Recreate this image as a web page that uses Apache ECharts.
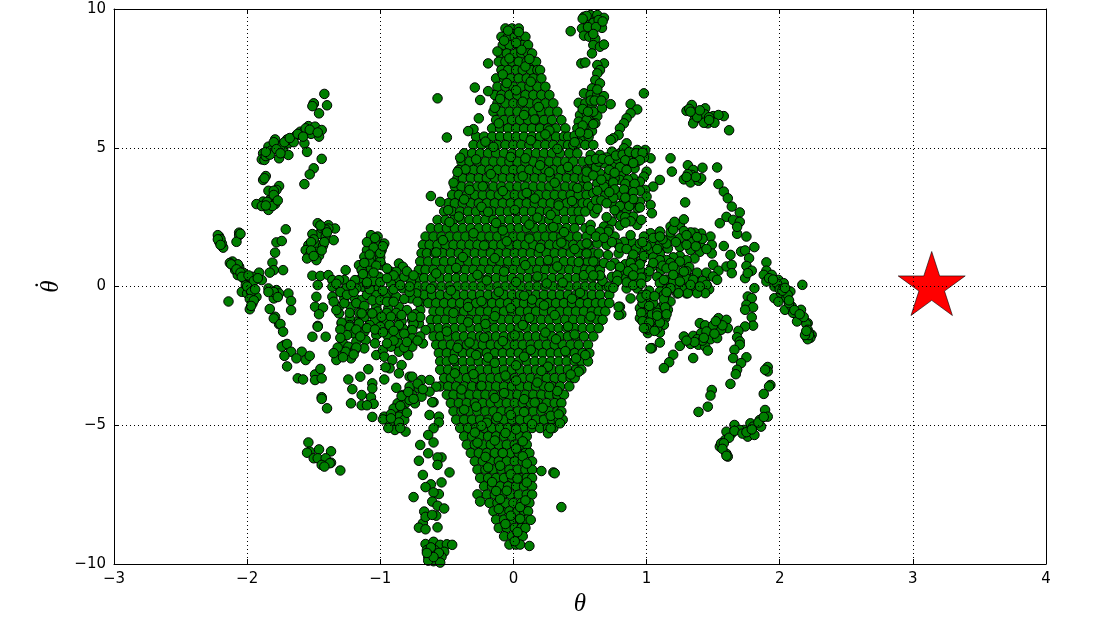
<!DOCTYPE html>
<html><head><meta charset="utf-8">
<style>html,body{margin:0;padding:0;background:#fff}#c{width:1100px;height:633px}</style>
<script src="https://cdn.jsdelivr.net/npm/echarts@6/dist/echarts.min.js"></script>
</head><body><div id="c"></div>
<script>
const xTicks = [-3,-2,-1,0,1,2,3,4];
const yTicks = [-10,-5,0,5,10];
const target = [3.14159, 0];

// Core of the cloud: one list of theta values per theta-dot level
const coreOmega = [9.3,9,8.7,8.4,8.1,7.8,7.5,7.2,6.9,6.6,6.3,6,5.7,5.4,5.1,4.8,4.5,4.2,3.9,3.6,3.3,3,2.7,2.4,2.1,1.8,1.5,1.2,.9,.6,.3,0,-.3,-.6,-.9,-1.2,-1.5,-1.8,-2.1,-2.4,-2.7,-3,-3.3,-3.6,-3.9,-4.2,-4.5,-4.8,-5.1,-5.4,-5.7,-6,-6.3,-6.6,-6.9,-7.2,-7.5,-7.8,-8.1,-8.4,-8.7,-9,-9.3];
const coreTheta = [
[-.06,-.01,.04],
[-.09,-.04,.01,.06,.09],
[-.08,-.03,.03,.07,.11],
[-.1,-.05,.01,.06,.11,.14],
[-.11,-.06,-.01,.04,.1,.15,.17],
[-.09,-.04,.02,.07,.13,.18,.2],
[-.13,-.07,-.02,.04,.1,.15,.21],
[-.12,-.06,0,.06,.12,.18,.24],
[-.14,-.09,-.03,.03,.09,.15,.21,.27],
[-.12,-.06,0,.06,.12,.18,.24,.3],
[-.15,-.09,-.03,.03,.09,.15,.21,.27,.33],
[-.13,-.07,-.01,.05,.11,.17,.23,.29,.36],
[-.16,-.1,-.04,.02,.08,.14,.2,.26,.32,.39],
[-.28,-.22,-.16,-.1,-.04,.02,.08,.14,.2,.26,.32,.38,.41],
[-.3,-.24,-.18,-.12,-.06,0,.06,.12,.18,.24,.3,.36,.41,.45],
[-.37,-.31,-.25,-.19,-.13,-.07,-.01,.05,.11,.17,.23,.29,.35,.42,.48],
[-.39,-.33,-.27,-.21,-.15,-.09,-.03,.03,.09,.15,.21,.27,.33,.39,.45,.52],
[-.41,-.36,-.3,-.24,-.18,-.12,-.06,0,.06,.12,.18,.24,.3,.36,.42,.48,.55],
[-.42,-.38,-.32,-.26,-.2,-.14,-.08,-.02,.04,.1,.16,.22,.28,.34,.4,.46,.52,.55],
[-.44,-.39,-.33,-.27,-.21,-.15,-.09,-.03,.03,.09,.15,.21,.27,.33,.39,.45,.51,.56],
[-.46,-.41,-.35,-.29,-.23,-.17,-.11,-.05,.01,.07,.13,.19,.25,.31,.37,.43,.49,.55],
[-.49,-.44,-.38,-.32,-.26,-.2,-.14,-.08,-.02,.04,.1,.16,.22,.28,.34,.4,.46,.52,.56],
[-.52,-.46,-.4,-.34,-.28,-.22,-.16,-.1,-.04,.02,.08,.14,.2,.26,.32,.38,.44,.49,.54],
[-.57,-.51,-.45,-.39,-.33,-.27,-.21,-.15,-.09,-.03,.03,.09,.15,.21,.27,.33,.39,.45,.5],
[-.62,-.56,-.5,-.44,-.38,-.32,-.26,-.2,-.14,-.08,-.02,.04,.1,.16,.22,.28,.34,.4,.46,.54],
[-.66,-.6,-.54,-.48,-.42,-.36,-.3,-.24,-.18,-.12,-.06,0,.06,.12,.18,.24,.3,.36,.42,.48,.55],
[-.68,-.63,-.57,-.51,-.45,-.39,-.33,-.27,-.21,-.15,-.09,-.03,.03,.09,.15,.21,.27,.33,.39,.45,.51,.57],
[-.69,-.65,-.59,-.53,-.47,-.41,-.35,-.29,-.23,-.17,-.11,-.05,.01,.07,.13,.19,.25,.31,.37,.43,.49,.55,.6],
[-.7,-.64,-.58,-.52,-.46,-.4,-.34,-.28,-.22,-.16,-.1,-.04,.02,.08,.14,.2,.26,.32,.38,.44,.5,.56,.62],
[-.71,-.66,-.6,-.54,-.48,-.42,-.36,-.3,-.24,-.18,-.12,-.06,0,.06,.12,.18,.24,.3,.36,.42,.48,.54,.6,.64],
[-.72,-.67,-.61,-.55,-.49,-.43,-.37,-.31,-.25,-.19,-.13,-.07,-.01,.05,.11,.17,.23,.29,.35,.41,.47,.53,.59,.66],
[-.72,-.66,-.6,-.54,-.48,-.42,-.36,-.3,-.24,-.18,-.12,-.06,0,.06,.12,.18,.24,.3,.36,.42,.48,.54,.6,.65,.7],
[-.71,-.67,-.61,-.55,-.49,-.43,-.37,-.31,-.25,-.19,-.13,-.07,-.01,.05,.11,.17,.23,.29,.35,.41,.47,.53,.59,.65,.72],
[-.7,-.64,-.58,-.52,-.46,-.4,-.34,-.28,-.22,-.16,-.1,-.04,.02,.08,.14,.2,.26,.32,.38,.44,.5,.56,.62,.67,.72],
[-.6,-.55,-.49,-.43,-.37,-.31,-.25,-.19,-.13,-.07,-.01,.05,.11,.17,.23,.29,.35,.41,.47,.53,.59,.64,.69],
[-.62,-.57,-.51,-.45,-.39,-.33,-.27,-.21,-.15,-.09,-.03,.03,.09,.15,.21,.27,.33,.39,.45,.51,.57,.63,.67],
[-.62,-.56,-.5,-.44,-.38,-.32,-.26,-.2,-.14,-.08,-.02,.04,.1,.16,.22,.28,.34,.4,.46,.52,.58,.64],
[-.6,-.55,-.49,-.43,-.37,-.31,-.25,-.19,-.13,-.07,-.01,.05,.11,.17,.23,.29,.35,.41,.47,.53,.6],
[-.58,-.53,-.47,-.41,-.35,-.29,-.23,-.17,-.11,-.05,.01,.07,.13,.19,.25,.31,.37,.43,.49,.56],
[-.56,-.5,-.44,-.38,-.32,-.26,-.2,-.14,-.08,-.02,.04,.1,.16,.22,.28,.34,.4,.46,.52,.57],
[-.55,-.5,-.44,-.38,-.32,-.26,-.2,-.14,-.08,-.02,.04,.1,.16,.22,.28,.34,.4,.46,.51,.56],
[-.55,-.49,-.43,-.37,-.31,-.25,-.19,-.13,-.07,-.01,.05,.11,.17,.23,.29,.35,.41,.47,.51],
[-.52,-.47,-.41,-.35,-.29,-.23,-.17,-.11,-.05,.01,.07,.13,.19,.25,.31,.37,.43,.46],
[-.55,-.49,-.43,-.37,-.31,-.25,-.19,-.13,-.07,-.01,.05,.11,.17,.23,.29,.35,.42],
[-.5,-.45,-.39,-.33,-.27,-.21,-.15,-.09,-.03,.03,.09,.15,.21,.27,.33,.38],
[-.47,-.41,-.35,-.29,-.23,-.17,-.11,-.05,.01,.07,.13,.19,.25,.31,.36],
[-.45,-.39,-.33,-.27,-.21,-.15,-.09,-.03,.03,.09,.15,.21,.27,.33,.36],
[-.43,-.37,-.31,-.25,-.19,-.13,-.07,-.01,.05,.11,.17,.23,.29,.34,.37],
[-.4,-.34,-.28,-.22,-.16,-.1,-.04,.02,.08,.14,.2,.26,.3],
[-.37,-.31,-.25,-.19,-.13,-.07,-.01,.05,.1],
[-.35,-.29,-.23,-.17,-.11,-.05,.01,.06,.1],
[-.32,-.26,-.2,-.14,-.08,-.02,.04,.09,.12],
[-.29,-.23,-.17,-.11,-.05,.01,.07,.14],
[-.27,-.21,-.15,-.09,-.03,.03,.09,.14],
[-.25,-.19,-.13,-.07,-.01,.05,.1,.14],
[-.22,-.16,-.1,-.04,.02,.08,.14],
[-.2,-.14,-.08,-.02,.04,.1,.14],
[-.18,-.12,-.06,0,.06,.12],
[-.15,-.09,-.03,.03,.08,.11],
[-.13,-.07,-.01,.05,.1],
[-.11,-.05,.01,.06,.09],
[-.07,-.01,.04,.07],
[-.03,.02,.05]
];
// Points lying over the core, as theta, theta-dot pairs
const coreOverlay = [-.04,9.22,.04,9.17,-.07,8.86,.06,8.53,-.03,8.22,.09,7.93,-.08,7.64,.13,7.38,.02,7.07,-.1,6.76,.19,6.47,.08,6.18,-.11,5.88,.27,5.62,.13,5.27,-.21,5.22,.33,4.96,-.02,4.67,-.28,4.58,.2,4.37,.41,4.31,-.17,4.05,.07,3.97,.31,3.74,-.33,3.48,-.08,3.44,.16,3.17,.44,3.08,-.24,2.87,.01,2.76,.28,2.58,-.41,2.52,-.13,2.29,.12,2.23,.38,1.96,-.3,1.92,-.53,1.67,-.05,1.63,.2,1.39,.46,1.35,-.38,1.06,-.14,1.02,.09,.77,.33,.72,-.58,.47,-.27,.42,.53,.41,.02,.16,.25,.11,-.47,-.14,-.11,-.19,.44,-.44,.14,-.47,-.34,-.74,-.02,-.78,.31,-1.03,.58,-1.08,-.21,-1.35,.07,-1.39,-.5,-1.62,.24,-1.66,.46,-1.73,-.08,-1.97,-.33,-2.02,.13,-2.28,.39,-2.33,-.19,-2.56,-.45,-2.62,.02,-2.84,.26,-2.89,-.3,-3.16,-.06,-3.21,.18,-3.46,-.39,-3.71,.33,-3.77,-.14,-4.02,.08,-4.06,-.28,-4.33,.22,-4.37,-.02,-4.63,-.2,-4.91,.14,-4.96,-.29,-5.26,-.06,-5.28,-.14,-5.55,.02,-5.84,-.21,-6.14,.07,-6.12,-.1,-6.46,-.02,-6.77,-.16,-7.05,.1,-7.06,-.05,-7.36,-.1,-7.66,.05,-7.95,-.02,-8.26,-.06,-8.56,.03,-8.85,.01,-9.18,-.12,8.47,.02,8.78,.12,8.2,-.05,7.33,.07,6.66,-.14,6.44,.16,6.02,.24,5.48,-.15,5.03,.09,4.62,-.36,4.22,.27,4.12,-.23,3.61,.48,3.55,.1,3.37,-.37,3.14,.34,2.92,-.19,2.69,.18,2.48,-.48,2.32,-.08,2.02,.3,2.14,-.22,1.48,.12,1.73,.36,1.58,-.58,1.23,.26,.95,-.07,.54,.49,.88,-.43,.67,.18,.36,-.2,.22,-.62,-.08,.37,.14,.08,-.33,-.24,-.53,.5,-.23,.23,-.68,-.45,-.95,.12,-1.13,-.14,-1.07,.41,-1.44,-.34,-1.29,.01,-1.76,-.22,-1.84,.32,-1.9,-.42,-2.21,.08,-2.53,.47,-2.59,-.28,-2.47,-.14,-2.75,.21,-3.04,-.44,-3.13,.02,-3.39,-.24,-3.58,.27,-3.62,-.07,-3.84,.16,-4.18,-.37,-4.44,.08,-4.52,-.12,-4.71,.28,-4.66,-.24,-5.02,.02,-5.15,-.27,-5.63,.07,-5.58,-.08,-6,-.19,-6.52,.1,-6.38,.03,-6.92,-.13,-7.37,.09,-7.71,-.11,-8.02,.05,-8.37];

// Outlying groups, as theta, theta-dot pairs
const topFinger = [.53,9.72,.58,9.78,.63,9.78,.68,9.68,.55,9.6,.615,9.54,.515,9.3,.58,9.36,.665,9.32,.43,9.2,.53,9.04,.57,9,.615,8.92,.6,8.7,.65,8.64,.68,8.72,.59,8.4,.51,8.04,.54,8.07,.68,8.04,.63,7.98,.65,7.8,.63,7.68,.615,7.44,.65,7.32,.59,7.14,.53,6.96,.58,6.9,.63,6.92,.68,6.86,.73,6.57,.49,6.62,.54,6.6,.59,6.54,.665,6.42,.5,6.18,.55,6.24,.63,6.14,.49,5.94,.565,6,.615,5.88,.48,5.7,.54,5.67,.59,5.6,.46,5.43,.515,5.4,.565,5.4,.49,5.16,.54,5.1,.55,9.75,.6,9.5,.64,9.6,.56,9.35,.62,9.35,.6,9.1,.52,9.65,.67,9.55,.63,7.1,.58,6.7,.52,6.4,.6,6.3,.55,6,.52,5.8,.6,5.85,.56,5.5,.5,5.55,.61,6.7,.66,6.7,.56,6.3,.46,5.2,.6,5.1];
const rightUpper = [.98,6.96,.88,6.58,.93,6.38,.88,6.24,.85,6.06,.83,5.88,.8,5.7,.79,5.46,.75,5.34,.73,5.28,.85,5.16,.99,4.92,1.03,4.62,.93,4.92,.89,4.68,.98,4.65,.8,4.8,.58,4.74,.65,4.74,.74,4.86,.83,4.98,.9,4.74,.59,4.44,.68,4.44,.76,4.44,.88,4.32,.55,4.14,.65,4.08,.71,3.96,.81,4.02,.91,4.26,1,4.14,.98,3.96,.95,3.78,1.1,3.84,1.05,3.6,.99,3.48,1,3.24,1.03,2.94,1.04,2.64,.63,3.72,.71,3.66,.8,3.84,.87,3.57,.6,3.36,.69,3.3,.8,3.3,.88,3.24,.59,2.9,.75,2.94,.83,3.06,.91,3.06,.95,3.06,.61,2.64,.78,2.64,.85,2.76,.93,2.82,.81,2.52,.9,2.52,.93,2.22,.74,2.34,.58,2.22,.68,2.16,.62,4.3,.72,4.2,.83,4.4,.93,4.5,.76,3.9,.68,3.6,.9,3.9,.86,3.85,.75,3.2,.64,4.5,.7,4.65,.78,4.6,.86,4.6,.62,3.1,.88,2.95,.57,4.55,.62,4.6,.67,4.6,.72,4.55,.77,4.72,.82,4.75,.87,4.85,.92,4.8,.97,4.82,.95,4.55,.84,4.55,.9,4.45,.8,4.3,.85,4.2,.76,4.1,.6,4,.66,3.85,.75,3.75,.84,3.7,.91,3.7,.95,3.45,.9,3.4,.83,3.5,.76,3.5,.72,3.4,.63,3.45,.66,3.1,.7,3,.8,2.9,.87,2.9,.9,3.15,.84,3.2,.95,2.85,.63,2.8,.7,2.5,.76,2.75,.84,2.5,.88,2.35,.8,2.2,.72,2.05,.84,2.3,.96,2.4];
const rightMid = [1.25,2.21,1.18,2.16,1.1,1.98,1.03,1.92,.98,1.8,1.04,1.55,1.1,1.5,1.18,1.8,1.25,1.74,1.33,1.61,1.4,1.55,1.48,1.8,1.49,1.5,1.41,1.91,1.36,1.94,1.49,1.19,1.4,1.25,1.33,1.31,1.25,1.43,1.16,1.37,1.03,1.25,1.1,1.19,.95,1.31,.89,1.61,.83,1.61,.76,1.8,.71,1.97,.65,1.97,.58,2.03,.78,1.55,.7,1.49,.63,1.55,.55,1.55,.55,1.19,.64,1.19,.71,1.13,.79,1.19,.89,1.01,.96,.95,1.04,.71,1.11,.59,1.2,.77,1.28,.83,1.36,1.01,1.29,.47,1.36,.35,1.45,.35,1.45,.05,1.38,-.07,1.3,-.25,1.23,-.25,1.15,-.25,1.08,.35,.58,.59,.65,.59,.74,.35,.84,.35,.91,.23,1,.35,.85,-.07,.8,-.73,.81,-1,.88,-.43,.93,-.07,.6,.9,.68,.85,.76,.85,.84,.8,.8,.55,.95,.6,.67,.2,.72,0,1.15,1.55,1.25,1.1,1.3,.95,1.2,1.05,1.15,.95,1.32,.7,1.22,.5,1.15,.25,1.2,.05,1.3,.1,1.38,.15,1.25,.25,.96,.32,.88,.5,1.05,1.05,1.33,1.95,.92,1.35,1.28,2,.62,1.8,.68,1.75,.74,1.6,.8,1.4,.85,1.35,.88,1.85,.95,1.55,.9,1.15,1,1.45,1.08,1.35,.98,1.1,1.1,.95,1.05,.85,.88,.85,.95,.8,1.12,.75,1.18,.85,1.25,.9,1.02,.55,.9,.65,.86,.55,.8,.7,.73,.75,.65,.4,.6,.4,.78,.4,.9,.4,1.15,.65,1.22,.6,1.3,.55,1.38,.5,1.45,.5,1.42,.2,1.3,.28,1.36,0,1.28,-.1,1.22,-.1,1.15,-.1,1.4,-.15,1.47,-.1,1.2,.2,1.1,.12,1.3,1.5,1.37,1.45,1.45,1.35,1.22,1.6,1.3,1.85,1.18,1.95,1.42,1.72,1.38,1.78,1.12,1.7,1.05,1.75,1.2,2.05,1.1,1.8,.97,1.6,.85,.15,.78,.2,.9,.05,.96,.1,.75,-.05];
const lowerLobe = [.98,-.48,1.03,-.48,1.1,-.18,1.18,-.54,.95,-.78,1.01,-.84,1.08,-.78,1.16,-.84,.95,-1.14,1,-1.14,1.05,-1.2,1.14,-1.14,1.13,-1.38,.99,-1.38,1.04,-1.44,1.01,-1.68,1.1,-1.66,1.1,-2.02,1.04,-2.22,.97,-.3,1.02,-.15,1.13,-.3,.97,-.6,1.05,-.6,1.13,-.65,1.12,-.95,.98,-.95,1.04,-1,1.01,-1.55,1.08,-1.5,1.03,-2.23,1.13,.24,1.2,.72,1.28,.54,1.35,.24,1.45,.06,1.44,-.24,1.38,-.24,1.31,-.24,1.24,-.24,1.18,-.06,1.4,0,1.33,.06,1.25,.18,1.2,.42,.96,-.4,1,-.3,1.06,-.35,1.13,-.45,.96,-.95,1.02,-.7,1.08,-.95,1.14,-.75,.97,-1.25,1.02,-1.3,1.1,-1.3,1.08,-1.05,1.15,-1,1,-1.5,1.06,-1.6,.98,-1.5,1.15,-.2];
const rightScatter = [1.58,1.46,1.68,1.9,1.75,1.8,1.81,1.42,1.63,1.14,1.71,1.26,1.74,1.3,1.77,1.02,1.5,.78,1.54,.57,1.6,.72,1.64,.78,1.64,.48,1.5,.36,1.53,.24,1.75,.74,1.79,.57,1.74,.3,1.76,.48,1.9,.87,1.81,-.06,1.34,6.54,1.3,6.33,1.35,6.27,1.44,6.42,1.44,6.2,1.5,6.14,1.58,6.14,1.54,6.18,1.36,6,1.35,5.88,1.46,5.88,1.51,5.9,1.43,5.9,1.62,5.63,1.18,4.62,1.19,4.14,1.31,4.37,1.42,4.28,1.53,4.29,1.35,4.2,1.34,4.02,1.28,3.86,1.33,3.75,1.39,3.81,1.41,3.9,1.29,3.03,1.54,3.69,1.58,3.42,1.61,3.18,1.64,2.88,1.7,2.67,1.6,2.51,1.55,2.28,1.65,2.4,1.7,2.33,1.68,2.15,1.28,2.42,1.21,2.33,1.38,6.1,1.32,6.4,1.4,6.35,1.47,6.1,1.33,6.3,1.47,6,1.31,4.05,1.37,3.95,1.3,3.95];
const rightTail = [1.9,.57,1.94,.42,1.88,.42,1.9,.18,1.99,.24,1.96,0,2.03,.12,2.08,-.18,1.96,-.42,2.01,-.24,2.05,-.42,2.04,-.84,2.09,-.72,2.13,-.9,2.16,-.84,2.14,-1.14,2.21,-1.32,2.13,-1.26,2.2,-1.35,2.21,-1.56,2.22,-1.8,2.2,-1.8,2.24,-1.74,2.17,.06,1.92,.3,1.98,.1,2,-.1,2.06,-.3,1.99,-.55,2.07,-.6,2.1,-.95,2.18,-1.1,2.2,-1.65,2.22,-1.68,2.23,-1.85,2.21,-1.9,2.02,-.15,2.04,-.05,1.95,.25,2.07,-.5,2.11,-.85,2.15,-1,2.22,-1.75,2.19,-1.75,2.2,-1.6];
const rightColumn = [1.76,-.36,1.79,-.42,1.75,-.66,1.8,-.75,1.74,-.84,1.79,-1.11,1.8,-1.41,1.74,-1.44,1.69,-1.6,1.68,-1.83,1.7,-1.98,1.7,-2.1,1.66,-2.28,1.65,-2.58,1.75,-2.55,1.71,-2.76,1.68,-3,1.67,-3.16,1.63,-3.51];
const rightCluster = [1.54,-1.14,1.6,-1.2,1.4,-1.32,1.48,-1.5,1.54,-1.5,1.61,-1.5,1.56,-1.56,1.35,-1.78,1.41,-1.68,1.48,-1.9,1.53,-1.86,1.28,-1.8,1.39,-2.1,1.44,-2.16,1.33,-2.07,1.46,-2.31,1.25,-2.14,1.2,-2.46,1.17,-2.73,1.13,-2.94,1.35,-2.58,1.49,-3.73,1.48,-3.93,1.46,-4.33,1.39,-4.52,1.91,-2.9,1.91,-3.06,1.89,-3,1.93,-3.55,1.92,-3.6,1.88,-3.87,1.44,-1.4,1.5,-1.4,1.45,-1.62,1.51,-1.7,1.57,-1.4,1.38,-1.9,1.42,-1.95,1.36,-2,1.3,-1.95,1.43,-1.85,1.52,-1.25];
const bottomArc = [1.89,-4.45,1.91,-4.69,1.85,-4.81,1.78,-4.93,1.8,-5.05,1.86,-5.05,1.73,-5.17,1.76,-5.41,1.81,-5.35,1.66,-4.99,1.7,-5.17,1.64,-5.29,1.6,-5.23,1.59,-5.53,1.55,-5.77,1.56,-5.65,1.6,-6.03,1.61,-6.13,1.62,-5.45,1.66,-5.2,1.72,-5.3,1.75,-5.25,1.79,-5.15,1.84,-4.9,1.88,-4.7,1.58,-5.65,1.57,-5.85,1.6,-6.1];
const leftArc = [-1.42,6.94,-1.5,6.58,-1.5,6.6,-1.51,6.5,-1.4,6.53,-1.46,6.24,-1.54,5.78,-1.49,5.76,-1.44,5.64,-1.46,5.4,-1.6,5.58,-1.66,5.34,-1.57,5.16,-1.69,5.16,-1.55,4.85,-1.73,4.92,-1.69,4.74,-1.76,4.62,-1.78,5.1,-1.84,5.04,-1.79,5.3,-1.88,4.8,-1.89,4.58,-1.87,4.56,-1.44,4.6,-1.5,4.26,-1.53,4.04,-1.57,3.69,-1.86,3.98,-1.88,3.84,-1.76,3.62,-1.78,3.48,-1.84,3.45,-1.83,3.12,-1.79,2.97,-1.88,3.06,-1.93,2.97,-1.84,2.76,-1.89,2.9,-1.63,5.45,-1.58,5.55,-1.7,5.3,-1.75,5.05,-1.82,4.9,-1.86,4.7,-1.52,5.5,-1.56,5.7,-1.65,5.2,-1.83,4.75,-1.8,5.2,-1.72,5.2,-1.68,5.35,-1.62,5.5,-1.58,5.4,-1.53,5.65,-1.47,5.55,-1.78,4.95,-1.86,4.85,-1.75,4.8,-1.87,3.9,-1.85,3.05,-1.81,2.9,-1.86,2.92,-1.8,3.45,-1.8,3.3,-1.77,3.1];
const leftLobes = [-1.71,2.06,-1.78,1.59,-1.74,1.64,-1.79,1.22,-1.81,.86,-1.73,.59,-1.8,.59,-1.83,.5,-2.06,1.94,-2.06,1.85,-2.08,1.61,-2.21,1.8,-2.21,1.61,-2.18,1.4,-2.22,1.85,-2.19,1.55,-2.11,.9,-2.06,.71,-2.09,.59,-2.07,.41,-2.02,.26,-1.91,.5,-1.96,.35,-1.89,.23,-1.96,-.01,-2.04,-.19,-2,-.25,-2.14,-.54,-1.84,-.07,-1.78,-.13,-1.76,-.25,-1.8,-.43,-1.93,-.37,-1.96,-.61,-1.98,-.82,-1.69,-.25,-1.67,-.52,-1.67,-.85,-1.83,-.81,-1.79,-1.09,-1.76,-1.36,-1.8,-1.15,-2.1,.75,-2.03,.5,-1.98,.15,-2.07,.8,-2.13,.85,-2.01,.05,-2.12,.8,-2.08,.62,-2.05,.5,-2.04,.35,-1.99,.4,-1.95,.2,-1.92,.3,-2,0,-1.97,-.2,-1.94,-.1,-1.98,-.45,-1.95,-.5,-1.97,-.7,-1.8,-.2,-1.84,-.2,-1.77,-.38,-2.2,1.7,-2.22,1.7,-2.2,1.5,-2.05,1.9];
const leftCluster = [-1.47,2.28,-1.39,2.21,-1.34,2.09,-1.39,2.09,-1.46,1.89,-1.51,1.89,-1.41,1.8,-1.35,1.67,-1.48,1.52,-1.54,1.49,-1.43,1.47,-1.56,1.31,-1.48,1.25,-1.53,1.13,-1.46,1.11,-1.55,1.01,-1.48,.95,-1.51,.39,-1.45,.38,-1.39,.41,-1.47,.05,-1.48,-.37,-1.49,-.73,-1.43,-.76,-1.46,-1,-1.47,-1.42,-1.44,2.1,-1.41,2.05,-1.45,2.2,-1.5,1.7,-1.42,1.6,-1.52,1.6,-1.52,1.3,-1.44,1.3,-1.5,1.1,-1.4,1.95];
const midLeftBlock = [-1.07,1.85,-1.02,1.8,-.97,1.55,-1.04,1.55,-1.1,1.31,-.99,1.31,-1.12,1.07,-1.06,.95,-1.16,.77,-.99,.77,-1.07,.65,-1.14,.59,-1.01,.35,-1.09,.35,-1.16,.23,-1.13,-.01,-1.03,-.01,-1.26,.59,-1.27,.23,-1.19,.23,-1.36,.23,-1.31,.23,-1.36,-.01,-1.26,-.07,-1.18,-.07,-1.36,-.37,-1.27,-.43,-1.19,-.43,-1.14,-.49,-1.31,-.73,-1.22,-.73,-1.31,-.97,-1.23,-1.15,-1.29,-1.33,-1.14,-.85,-1.16,-1.21,-1.23,-1.39,-1.03,1.1,-1.08,.9,-1,1.05,-.86,.83,-.83,.71,-.92,.53,-.88,.53,-.86,.23,-.92,.11,-.93,-.25,-.83,-.07,-.77,.17,-.73,-.25,-.88,-.37,-.96,-.37,-1.03,-.31,-1.03,-.73,-.94,-.79,-.86,-.73,-.77,-.43,-.7,-.85,-1.08,-.97,-1.01,-1.09,-.86,-1.21,-.93,-1.15,-.76,-1.21,-1.08,-1.39,-1.01,-1.45,-.92,-1.51,-.83,-1.51,-.76,-1.51,-.71,-1.33,-1.33,.1,-1.3,-.2,-1.35,-.55,-1.33,-.85,-1.27,-.6,-1.25,-.3,-1.2,-.2,-1.22,.05,-1.23,-.95,-1.18,-.6,-1.16,-.95,-1.12,-.7,-1.1,-.3,-1.08,-.1,-1.1,.1,-1.05,.2,-1,.15,-1.06,-.5,-1,-.5,-1.02,-.9,-.98,-.15,-.95,-.55,-.9,-.1,-.9,-.55,-.95,-.95,-.88,-.95,-.82,-.45,-.8,-.85,-.84,-1.25,-.78,-.2,-.72,-.55,-.74,-1,-.7,-1.1,-.75,-1.35,-.96,-1.25,-1.04,-1.2,-1.12,-1.1,-1.1,1.6,-1.05,1.4,-1.08,1.15,-1.12,.85,-1,.9,-1.03,.75,-1.13,.45,-1.05,.5,-1.1,.15,-1.04,1.75,-1,1.2,-.98,1.45,-.95,.65,-.9,.4,-.82,.35,-.8,.55,-.75,.4,-.85,.05,-.78,0,-.95,.3];
const lowerLeftBand = [-1.14,-.97,-1.06,-.97,-.99,-1.09,-.92,-1.09,-.84,-1.03,-.76,-1.09,-1.29,-1.3,-1.23,-1.45,-1.16,-1.33,-1.08,-1.39,-1,-1.45,-.93,-1.39,-.86,-1.39,-.76,-1.57,-.66,-1.57,-1.2,-1.69,-1.12,-1.63,-1.03,-1.75,-.94,-1.81,-.76,-1.87,-.86,-1.75,-1.28,-2.05,-1.24,-2.17,-1.18,-1.99,-1.11,-1.93,-1.04,-2.05,-.86,-2.05,-.76,-2.17,-.68,-2.05,-1.32,-2.47,-1.33,-2.65,-1.22,-2.59,-1.26,-2.35,-1.03,-2.47,-1.19,-2.29,-1.12,-2.23,-.98,-2.29,-.92,-2.17,-.97,-2.53,-.91,-2.65,-.86,-2.35,-.79,-2.47,-.84,-2.83,-.93,-2.95,-.86,-3.13,-.78,-3.25,-.96,-2.91,-.97,-3.35,-.88,-3.65,-.76,-3.25,-.69,-3.37,-.63,-3.37,-.58,-3.61,-.71,-3.67,-.63,-3.79,-.78,-3.61,-.83,-3.91,-.76,-3.91,-.69,-3.97,-.87,-4.21,-.81,-4.21,-.74,-4.21,-.6,-4.17,-.89,-4.51,-.83,-4.45,-.78,-4.09,-.86,-4.69,-.91,-4.87,-.97,-4.69,-.82,-4.81,-.88,-5.05,-.93,-4.93,-.81,-5.23,-.89,-5.17,-.98,-4.79,-.72,-3.5,-.84,-3.95,-.9,-4.4,-.68,-3.7,-.79,-3.8,-1.18,-1.55,-1.1,-1.5,-1.04,-1.55,-.98,-1.65,-.9,-1.6,-.82,-1.7,-.7,-1.8,-.72,-1.95,-.82,-2.2,-.8,-2,-.9,-1.95,-.95,-2.05,-1.18,-2.2,-1.15,-1.8,-1.25,-1.75,-1.3,-1.55,-1.3,-1.85,-1.32,-2.2,-1.2,-2.45,-1.28,-2.55,-1.35,-2.4,-.92,-4.6,-.86,-4.9,-.85,-4.3,-.92,-4.75,-.8,-4.55,-.75,-4.05,-.94,-5.1,-.85,-5.1];
const midScatter = [-1.09,-2.98,-1.15,-3.25,-1.24,-3.35,-1.06,-3.49,-1.21,-3.7,-1.14,-3.91,-1.07,-3.99,-1.06,-3.67,-1.22,-4.21,-1.14,-4.28,-1.05,-4.23,-1.1,-4.28,-1.06,-4.7,-1.75,-1.35,-1.73,-1.63,-1.72,-2.11,-1.74,-2.17,-1.7,-2.07,-1.67,-2.35,-1.59,-2.35,-1.72,-2.5,-1.63,-2.59,-1.56,-2.65,-1.53,-2.5,-1.7,-2.88,-1.62,-3.31,-1.58,-3.35,-1.49,-3.17,-1.45,-2.97,-1.49,-3.37,-1.44,-3.31,-1.44,-3.99,-1.44,-4.05,-1.4,-4.39,-1.47,-1.45,-1.51,-1.81,-1.41,-1.81];
const bottomLeft = [-1.54,-5.62,-1.53,-5.95,-1.55,-5.99,-1.46,-5.87,-1.37,-5.94,-1.5,-6.19,-1.47,-6.19,-1.41,-6.19,-1.37,-6.35,-1.44,-6.43,-1.38,-6.37,-1.3,-6.63,-1.42,-6.49];
const lowerColumn = [-.61,-4.17,-.63,-4.63,-.56,-4.69,-.56,-4.9,-.6,-5.11,-.64,-5.35,-.6,-5.62,-.7,-5.71,-.64,-6.01,-.54,-6.16,-.57,-6.16,-.71,-6.28,-.57,-6.43,-.48,-6.7,-.68,-6.79,-.54,-7.06,-.62,-7.13,-.66,-7.23,-.56,-7.48,-.75,-7.59,-.6,-7.42,-.61,-7.75,-.57,-7.9,-.52,-8,-.58,-8.26,-.67,-8.11,-.68,-8.53,-.71,-8.69,-.66,-8.75,-.57,-8.68,-.66,-8.3,-.61,-8.23,-.66,-9.28,-.6,-9.2,-.55,-9.31,-.5,-9.29,-.46,-9.31,-.65,-9.5,-.59,-9.5,-.52,-9.56,-.64,-9.74,-.57,-9.86,-.54,-9.74,-.61,-9.62,-.6,-9.9,-.64,-9.88,-.55,-9.95,-.62,-9.4,-.56,-9.6,-.6,-9.75,-.65,-9.6];
const coreStrays = [.21,-6.65,.3,-6.7,.31,-6.73,.36,-7.95,.13,-8.41,.12,-9.35,-.27,-7.49,-.25,-7.75,-.57,6.78,-.5,5.37,-.29,7.17,-.19,8.04,-.19,7.04,-.25,6.72,-.26,6.06,-.3,5.67,-.34,5.6,-.4,4.64,-.62,3.26,-.55,3.05,-.45,3.74,-.42,4.13,-.49,2.75,.79,-1.03,.79,-.73,.54,-2.47,.49,-3.07,.43,-3.17,.34,-4.61,.35,-4.93,.26,-5.29,.28,-5.11];

const groups = [coreOverlay,topFinger,rightUpper,rightMid,lowerLobe,rightScatter,rightTail,rightColumn,rightCluster,bottomArc,leftArc,leftLobes,leftCluster,midLeftBlock,lowerLeftBand,midScatter,bottomLeft,lowerColumn,coreStrays];
const points = [];
coreOmega.forEach((w,i)=>coreTheta[i].forEach(t=>points.push([t,w])));
groups.forEach(g=>{for(let i=0;i<g.length;i+=2)points.push([g[i],g[i+1]]);});

const minus = v => String(v).replace('-','\u2212');
const labelFont = {fontFamily:'DejaVu Sans',fontSize:15,color:'#000'};
const mainAxis = (lo,hi,step,name,extra)=>Object.assign({
  type:'value',min:lo,max:hi,interval:step,z:8,
  axisLine:{onZero:false,lineStyle:{color:'#000',width:1}},
  axisTick:{inside:true,length:5,lineStyle:{color:'#000',width:1}},
  splitLine:{show:true,lineStyle:{color:'#000',width:1,type:[1,3]}},
  axisLabel:Object.assign({formatter:minus},labelFont),
  name:name,nameLocation:'middle'
},extra);
const mirrorAxis = (lo,hi,step,pos)=>({
  type:'value',min:lo,max:hi,interval:step,position:pos,z:8,
  axisLine:{onZero:false,show:true,lineStyle:{color:'#000',width:1}},
  axisTick:{show:true,inside:true,length:5,lineStyle:{color:'#000',width:1}},
  splitLine:{show:false},axisLabel:{show:false}
});
const nameFont = {fontFamily:'Liberation Serif',fontStyle:'italic',fontSize:25,color:'#000'};

const chart = echarts.init(document.getElementById('c'),null,{renderer:'canvas'});
chart.setOption({
  animation:false,
  backgroundColor:'#fff',
  grid:{left:114,right:54,top:9,bottom:69},
  xAxis:[
    mainAxis(xTicks[0],xTicks[xTicks.length-1],1,'\u03b8',{position:'bottom',nameGap:26,nameTextStyle:nameFont}),
    mirrorAxis(xTicks[0],xTicks[xTicks.length-1],1,'top')
  ],
  yAxis:[
    mainAxis(yTicks[0],yTicks[yTicks.length-1],5,'\u02d9\n\u03b8',{position:'left',nameGap:56,nameRotate:90,nameTextStyle:Object.assign({},nameFont,{lineHeight:6})}),
    mirrorAxis(yTicks[0],yTicks[yTicks.length-1],5,'right')
  ],
  series:[
    {type:'scatter',data:points,symbol:'circle',symbolSize:9.5,large:false,progressive:0,z:2,silent:true,
     itemStyle:{color:'#007f00',opacity:1,borderColor:'#000',borderWidth:1}},
    {type:'scatter',data:[target],symbol:'path://M50 0 L61.8 36.3 L100 36.3 L69.1 58.8 L80.9 95.1 L50 72.6 L19.1 95.1 L30.9 58.8 L0 36.3 L38.2 36.3 Z',
     symbolSize:[67,64],symbolOffset:[0,-3],symbolKeepAspect:false,z:3,silent:true,
     itemStyle:{color:'#ff0000',opacity:1,borderColor:'#000',borderWidth:.6}}
  ]
});
</script></body></html>
